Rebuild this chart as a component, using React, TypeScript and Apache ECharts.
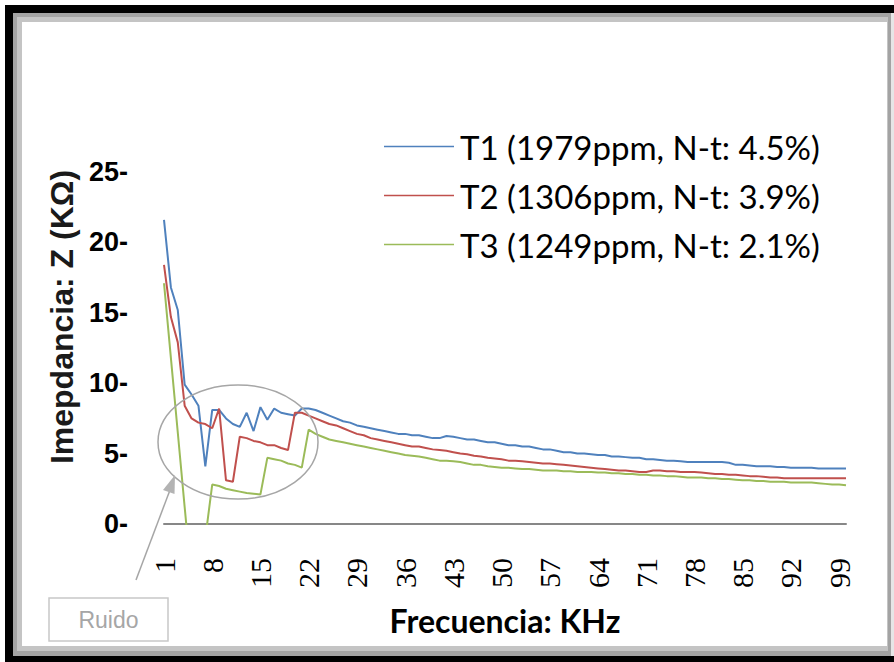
import React, { useEffect, useRef } from "react";
import * as echarts from "echarts";

const categories: string[] = Array.from({ length: 100 }, (_, i) => String(i + 1));

const t1: number[] = [
  21.6, 16.8, 15.2, 9.9, 9.2, 8.4, 4.1, 8.1, 8.1, 7.5,
  7.1, 6.9, 7.9, 6.6, 8.3, 7.4, 8.2, 7.9, 7.8, 7.7,
  8.2, 8.2, 8.1, 7.9, 7.7, 7.5, 7.3, 7.2, 7.0, 6.9,
  6.8, 6.7, 6.6, 6.5, 6.4, 6.4, 6.3, 6.3, 6.2, 6.1,
  6.1, 6.25, 6.2, 6.1, 6.0, 6.0, 5.9, 5.8, 5.8, 5.7,
  5.6, 5.6, 5.5, 5.5, 5.4, 5.3, 5.3, 5.2, 5.1, 5.1,
  5.0, 5.0, 4.95, 4.9, 4.9, 4.8, 4.8, 4.75, 4.7, 4.7,
  4.6, 4.6, 4.55, 4.5, 4.5, 4.45, 4.4, 4.4, 4.4, 4.4,
  4.4, 4.4, 4.35, 4.2, 4.2, 4.15, 4.1, 4.1, 4.1, 4.05,
  4.05, 4.0, 4.0, 4.0, 4.0, 3.95, 3.95, 3.95, 3.95, 3.95,
];

const t2: number[] = [
  18.4, 14.7, 12.9, 8.4, 7.5, 7.2, 7.1, 6.8, 8.2, 3.1,
  3.0, 6.2, 6.1, 5.9, 5.8, 5.6, 5.6, 5.4, 5.25, 7.9,
  7.9, 7.7, 7.5, 7.3, 7.1, 7.0, 6.8, 6.6, 6.4, 6.3,
  6.1, 6.0, 5.9, 5.8, 5.7, 5.6, 5.5, 5.5, 5.4, 5.3,
  5.25, 5.2, 5.1, 5.0, 4.95, 4.85, 4.8, 4.7, 4.65, 4.6,
  4.5, 4.5, 4.45, 4.4, 4.35, 4.3, 4.3, 4.25, 4.2, 4.15,
  4.1, 4.05, 4.0, 3.95, 3.9, 3.85, 3.8, 3.8, 3.75, 3.7,
  3.7, 3.8, 3.8, 3.75, 3.75, 3.7, 3.7, 3.7, 3.65, 3.6,
  3.55, 3.55, 3.5, 3.5, 3.45, 3.4, 3.4, 3.35, 3.3, 3.3,
  3.25, 3.25, 3.25, 3.25, 3.25, 3.25, 3.25, 3.25, 3.25, 3.25,
];

const t3: number[] = [
  17.1, 11.8, 6.5, 1.2, -4.0, -3.0, -1.0, 2.8, 2.7, 2.5,
  2.4, 2.3, 2.2, 2.15, 2.1, 4.7, 4.6, 4.5, 4.3, 4.2,
  4.0, 6.7, 6.4, 6.2, 6.0, 5.9, 5.8, 5.7, 5.6, 5.5,
  5.4, 5.3, 5.2, 5.1, 5.0, 4.9, 4.85, 4.8, 4.7, 4.6,
  4.5, 4.5, 4.45, 4.4, 4.3, 4.2, 4.2, 4.1, 4.05, 4.0,
  4.0, 3.95, 3.9, 3.9, 3.85, 3.8, 3.8, 3.8, 3.75, 3.75,
  3.7, 3.7, 3.7, 3.65, 3.65, 3.6, 3.6, 3.55, 3.55, 3.5,
  3.5, 3.45, 3.45, 3.4, 3.4, 3.35, 3.3, 3.3, 3.3, 3.25,
  3.25, 3.2, 3.2, 3.15, 3.1, 3.1, 3.05, 3.05, 3.0, 3.0,
  3.0, 2.95, 2.95, 2.95, 2.95, 2.9, 2.85, 2.8, 2.8, 2.75,
];

const seriesNames: string[] = [
  "T1 (1979ppm, N-t: 4.5%)",
  "T2 (1306ppm, N-t: 3.9%)",
  "T3 (1249ppm, N-t: 2.1%)",
];
const seriesColors: string[] = ["#4F81BD", "#C0504D", "#9BBB59"];

export default function App() {
  const ref = useRef<HTMLDivElement>(null);

  useEffect(() => {
    if (!ref.current) return;
    const chart = echarts.init(ref.current, null, { renderer: "svg" });
    const data = [t1, t2, t3];
    chart.setOption({
      animation: false,
      backgroundColor: "#ffffff",
      grid: { left: 164, right: 48, top: 172, bottom: 138, containLabel: false },
      legend: {
        orient: "vertical",
        left: 384,
        top: 130,
        padding: 0,
        icon: "rect",
        itemWidth: 70,
        itemHeight: 1.6,
        itemGap: 16,
        textStyle: { fontFamily: "Lato", fontSize: 33, lineHeight: 33, color: "#000", padding: [0, 0, 0, 1] },
        data: seriesNames,
      },
      xAxis: {
        type: "category",
        data: categories,
        boundaryGap: false,
        axisLine: { lineStyle: { color: "#878787", width: 2 } },
        axisTick: { show: false },
        axisLabel: {
          interval: 6,
          rotate: 90,
          margin: 34,
          fontFamily: "Liberation Serif",
          fontSize: 30,
          color: "#000",
        },
        name: "Frecuencia: KHz",
        nameLocation: "middle",
        nameGap: 80,
        nameTextStyle: { fontFamily: "Lato", fontWeight: "bold", fontSize: 32, color: "#000" },
      },
      yAxis: {
        type: "value",
        min: 0,
        max: 25,
        interval: 5,
        axisLine: { show: false },
        axisTick: { show: false },
        splitLine: { show: false },
        axisLabel: {
          formatter: "{value}-",
          margin: 36,
          fontFamily: "Liberation Sans",
          fontWeight: "bold",
          fontSize: 27,
          color: "#000",
        },
      },
      series: data.map((d, i) => ({
        name: seriesNames[i],
        type: "line",
        data: d,
        symbol: "none",
        clip: true,
        lineStyle: { color: seriesColors[i], width: 2 },
        itemStyle: { color: seriesColors[i] },
      })),
      graphic: [
        { type: "rect", z: -10, shape: { x: 5, y: 5, width: 889, height: 657 }, style: { fill: "#000" } },
        { type: "rect", z: -9, shape: { x: 13, y: 13, width: 878, height: 643 }, style: { fill: "#a3a3a3" } },
        { type: "rect", z: -9, shape: { x: 891, y: 13, width: 3, height: 643 }, style: { fill: "#e6e6e6" } },
        { type: "rect", z: -8, shape: { x: 17, y: 17, width: 871, height: 634 }, style: { fill: "#c4c4c4" } },
        { type: "rect", z: -7, shape: { x: 22, y: 22, width: 865, height: 624 }, style: { fill: "#ffffff" } },
        {
          type: "text",
          x: 62,
          y: 317,
          rotation: Math.PI / 2,
          style: {
            text: "Imepdancia: Z (KΩ)",
            fontFamily: "Liberation Sans",
            fontWeight: "bold",
            fontSize: 32,
            fill: "#1a1a1a",
            textAlign: "center",
            textVerticalAlign: "middle",
          },
        },
        {
          type: "ellipse",
          shape: { cx: 238, cy: 442, rx: 80, ry: 57 },
          style: { fill: "none", stroke: "#a6a6a6", lineWidth: 1.5 },
          z: 10,
        },
        {
          type: "line",
          shape: { x1: 136, y1: 580, x2: 170, y2: 490 },
          style: { stroke: "#a6a6a6", lineWidth: 1.5 },
          z: 10,
        },
        {
          type: "polygon",
          shape: { points: [[175, 475], [163, 490], [174.5, 494]] },
          style: { fill: "#b3b3b3" },
          z: 10,
        },
        {
          type: "rect",
          shape: { x: 49, y: 598, width: 119, height: 43 },
          style: { fill: "#fff", stroke: "#c8c8c8", lineWidth: 1.5 },
          z: 10,
        },
        {
          type: "text",
          x: 108.5,
          y: 619.5,
          style: {
            text: "Ruido",
            fontFamily: "Liberation Sans",
            fontSize: 23,
            fill: "#a6a6a6",
            textAlign: "center",
            textVerticalAlign: "middle",
          },
          z: 11,
        },
      ],
    });
    return () => chart.dispose();
  }, []);

  return (
    <div
      ref={ref}
      style={{ position: "fixed", left: 0, top: 0, width: 894, height: 662 }}
    />
  );
}
